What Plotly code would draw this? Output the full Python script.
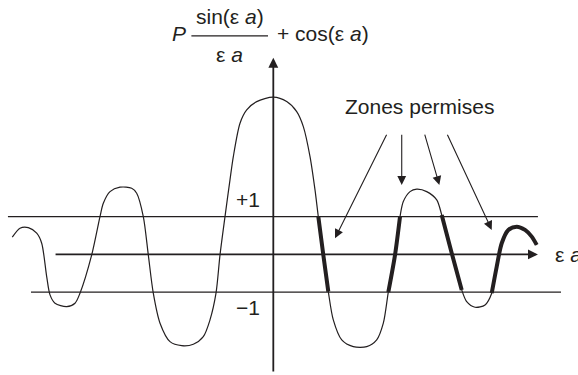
import plotly.graph_objects as go

# Kronig-Penney: f(εa) = P sin(εa)/(εa) + cos(εa), sampled along the drawn curve
ea = [-6.905, -6.701, -6.481, -6.259, -6.127, -5.995, -5.907, -5.775, -5.466, -5.246,
      -5.114, -4.804, -4.585, -4.497, -4.320, -4.056, -3.746, -3.614, -3.439, -3.307,
      -3.175, -2.997, -2.733, -2.423, -2.116, -1.852, -1.675, -1.516, -1.410, -1.278,
      -1.146, -1.058, -0.881, -0.704, -0.439, 0.000, 0.354, 0.619, 0.794, 0.971,
      1.103, 1.190, 1.323, 1.455, 1.587, 1.810, 2.116, 2.471, 2.735, 2.910,
      3.042, 3.220, 3.352, 3.439, 3.616, 3.794, 4.058, 4.323, 4.455, 4.720,
      4.984, 5.116, 5.336, 5.601, 5.778, 5.910, 6.042, 6.217, 6.439, 6.659,
      6.836, 6.968]
f = [0.455, 0.693, 0.709, 0.561, 0.296, -0.587, -1.071, -1.291, -1.381, -1.291,
     -1.026, -0.013, 1.000, 1.354, 1.661, 1.778, 1.751, 1.619, 1.000, -0.013,
     -1.026, -1.820, -2.307, -2.413, -2.376, -2.175, -1.733, -1.026, -0.013, 1.000,
     1.971, 2.587, 3.471, 3.823, 4.042, 4.159, 4.042, 3.778, 3.381, 2.587,
     1.706, 1.000, -0.013, -0.984, -1.733, -2.262, -2.439, -2.439, -2.262, -1.820,
     -1.000, -0.013, 1.000, 1.397, 1.661, 1.725, 1.661, 1.442, 1.045, 0.032,
     -0.939, -1.249, -1.397, -1.336, -1.026, -0.323, 0.296, 0.648, 0.735, 0.648,
     0.471, 0.251]

# index ranges (inclusive) of the allowed bands, where |f| <= 1
bands = [(41, 43), (50, 52), (58, 60), (64, 71)]

# horizontal guide lines at +1 and -1
guide_plus = (-7.02, 7.00)
guide_minus = (-6.41, 7.61)

# axes extents
x_axis = (-5.80, 7.00)
y_axis = (-3.135, 5.20)

# "Zones permises" arrows: (tail x, tail y, tip x, tip y)
zone_arrows = [(3.016, 3.206, 1.632, 0.429),
               (3.397, 3.206, 3.397, 1.839),
               (3.995, 3.206, 4.392, 1.839),
               (4.587, 3.206, 5.778, 0.648)]

BLACK = "#231f20"
FONT = "Liberation Sans, Arial, sans-serif"

fig = go.Figure()

for y0, (xa, xb) in [(1, guide_plus), (-1, guide_minus)]:
    fig.add_trace(go.Scatter(x=[xa, xb], y=[y0, y0], mode="lines",
                             line=dict(color=BLACK, width=1.3), hoverinfo="skip"))

fig.add_trace(go.Scatter(x=ea, y=f, mode="lines",
                         line=dict(color=BLACK, width=1.2, shape="spline", smoothing=0.8),
                         hoverinfo="skip"))

for i0, i1 in bands:
    fig.add_trace(go.Scatter(x=ea[i0:i1 + 1], y=f[i0:i1 + 1], mode="lines",
                             line=dict(color=BLACK, width=4, shape="spline", smoothing=0.8),
                             hoverinfo="skip"))

# axes with arrowheads
fig.add_annotation(x=x_axis[1], y=0, ax=x_axis[0], ay=0, xref="x", yref="y",
                   axref="x", ayref="y", text="", showarrow=True, arrowhead=2,
                   arrowsize=1.1, arrowwidth=1.8, arrowcolor=BLACK)
fig.add_annotation(x=0, y=y_axis[1], ax=0, ay=y_axis[0], xref="x", yref="y",
                   axref="x", ayref="y", text="", showarrow=True, arrowhead=2,
                   arrowsize=1.1, arrowwidth=1.8, arrowcolor=BLACK)

for tx, ty, hx, hy in zone_arrows:
    fig.add_annotation(x=hx, y=hy, ax=tx, ay=ty, xref="x", yref="y",
                       axref="x", ayref="y", text="", showarrow=True, arrowhead=2,
                       arrowsize=1.6, arrowwidth=1.1, arrowcolor=BLACK)

txt = dict(xref="x", yref="y", showarrow=False, font=dict(family=FONT, size=21, color=BLACK))
fig.add_annotation(x=3.854, y=3.902, text="Zones permises", xanchor="center", yanchor="middle", **txt)
fig.add_annotation(x=-0.30, y=1.442, text="+1", xanchor="right", yanchor="middle", **txt)
fig.add_annotation(x=-0.30, y=-1.415, text="\u22121", xanchor="right", yanchor="middle", **txt)
fig.add_annotation(x=7.40, y=0.0, text="ε <i>a</i>", xanchor="left", yanchor="middle", **txt)

# ordinate label: P sin(εa)/(εa) + cos(εa)
fig.add_annotation(x=-2.733, y=5.833, text="<i>P</i>", xanchor="left", yanchor="middle", **txt)
fig.add_annotation(x=-1.146, y=6.283, text="sin(ε <i>a</i>)", xanchor="center", yanchor="middle", **txt)
fig.add_annotation(x=-1.146, y=5.278, text="ε <i>a</i>", xanchor="center", yanchor="middle", **txt)
fig.add_annotation(x=0.045, y=5.833, text="+ cos(ε <i>a</i>)", xanchor="left", yanchor="middle", **txt)
fig.add_shape(type="line", x0=-2.167, x1=-0.140, y0=5.78, y1=5.78, xref="x", yref="y",
              line=dict(color=BLACK, width=1.3))

fig.update_layout(
    width=578, height=375, margin=dict(l=0, r=0, t=0, b=0),
    paper_bgcolor="white", plot_bgcolor="white", showlegend=False,
    xaxis=dict(range=[-7.23, 8.06], visible=False, fixedrange=True),
    yaxis=dict(range=[-3.19, 6.73], visible=False, fixedrange=True),
)

fig.write_html("out.html")
